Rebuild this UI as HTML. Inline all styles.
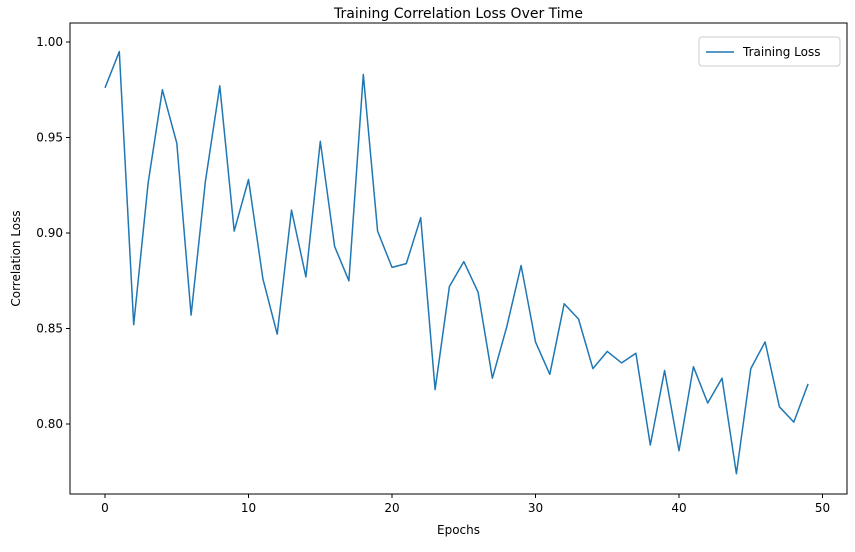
<!DOCTYPE html>
<html><head><meta charset="utf-8"><style>
body{margin:0;background:#fff;font-family:"Liberation Sans","DejaVu Sans",sans-serif;}
svg text{font-family:"DejaVu Sans","Liberation Sans",sans-serif;}
</style></head><body>
<svg id="chart" width="855" height="547" xmlns="http://www.w3.org/2000/svg"></svg>
<script>
const epochs = Array.from({length:50},(_, i)=>i);
const lossValues = [0.976,0.995,0.852,0.926,0.975,0.947,0.857,0.927,0.977,0.901,
0.928,0.876,0.847,0.912,0.877,0.948,0.893,0.875,0.983,0.901,
0.882,0.884,0.908,0.818,0.872,0.885,0.869,0.824,0.851,0.883,
0.843,0.826,0.863,0.855,0.829,0.838,0.832,0.837,0.789,0.828,
0.786,0.830,0.811,0.824,0.774,0.829,0.843,0.809,0.801,0.821];
const xTicks = [0,10,20,30,40,50];
const yTicks = [0.80,0.85,0.90,0.95,1.00];
const yTickLabels = ["0.80","0.85","0.90","0.95","1.00"];

const NS="http://www.w3.org/2000/svg";
const svg=document.getElementById('chart');
const L=70,T=23,R=847,B=494;
const xs=v=>105+(v)*14.35;
const ys=v=>42+(1-v)*1910;
function mk(tag,attrs){const e=document.createElementNS(NS,tag);for(const k in attrs)e.setAttribute(k,attrs[k]);svg.appendChild(e);return e;}

const frame=mk('rect',{x:L,y:T,width:R-L,height:B-T,fill:'none',stroke:'#000','stroke-width':1});



xTicks.forEach(t=>{
  const x=xs(t);
  const tk=mk('line',{x1:x,x2:x,y1:B,y2:B+4,stroke:'#000'});
  
  
  const lb=mk('text',{x:x,y:B+18,'text-anchor':'middle','font-size':12,fill:'#000'});
  lb.textContent=t;
  
  
});
yTicks.forEach((t,i)=>{
  const y=ys(t);
  const tk=mk('line',{x1:L-4,x2:L,y1:y,y2:y,stroke:'#000'});
  
  
  const lb=mk('text',{x:L-7,y:y+4,'text-anchor':'end','font-size':12,fill:'#000'});
  lb.textContent=yTickLabels[i];
  
  
});

const pts=epochs.map((e,i)=>xs(e).toFixed(1)+','+ys(lossValues[i]).toFixed(1)).join(' ');
const line=mk('polyline',{points:pts,fill:'none',stroke:'#1f77b4','stroke-width':1.5,'stroke-linejoin':'round'});



const title=mk('text',{x:(L+R)/2,y:18,'text-anchor':'middle','font-size':14,fill:'#000'});
title.textContent='Training Correlation Loss Over Time';


const xl=mk('text',{x:(L+R)/2,y:534,'text-anchor':'middle','font-size':12,fill:'#000'});
xl.textContent='Epochs';


const yl=mk('text',{x:20,y:(T+B)/2,'text-anchor':'middle','font-size':12,fill:'#000',transform:`rotate(-90 20 ${(T+B)/2})`});
yl.textContent='Correlation Loss';



const lg=mk('rect',{x:699,y:37,width:141,height:29,rx:3,fill:'#fff',stroke:'#ccc'});


const ll=mk('line',{x1:706,x2:734,y1:52,y2:52,stroke:'#1f77b4','stroke-width':1.5});


const lt=mk('text',{x:743,y:56,'font-size':12,fill:'#000'});
lt.textContent='Training Loss';


</script>
</body></html>
